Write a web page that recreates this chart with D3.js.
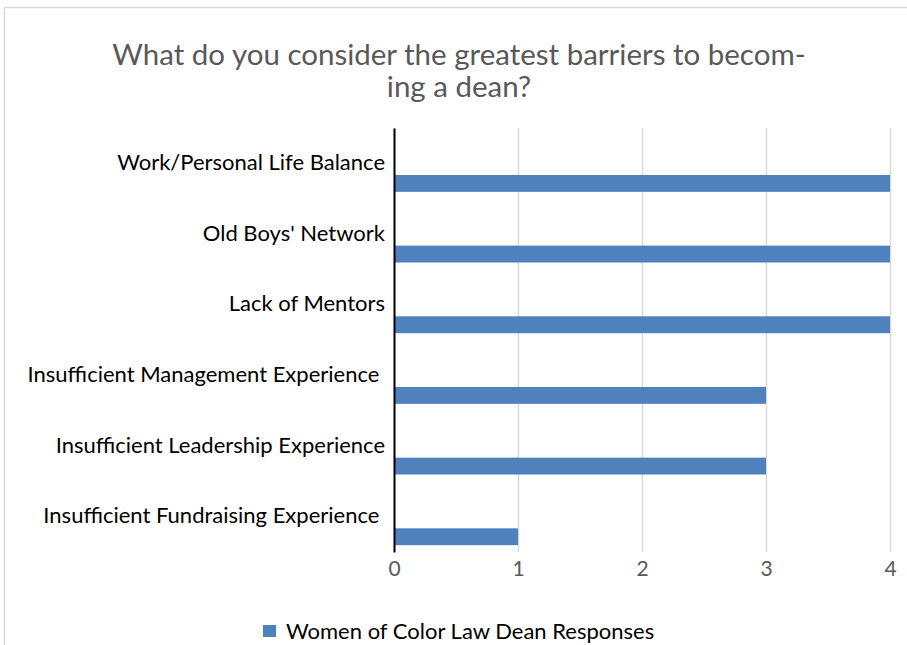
<!DOCTYPE html>
<html>
<head>
<meta charset="utf-8">
<script src="https://cdn.jsdelivr.net/npm/d3@7"></script>
<style>
  body { margin: 0; background: #fff; }
  text { font-family: Lato, "Open Sans", sans-serif; }
</style>
</head>
<body>
<div id="chart"></div>
<script>
// Chart data
var categories = [
  "Work/Personal Life Balance",
  "Old Boys' Network",
  "Lack of Mentors",
  "Insufficient Management Experience ",
  "Insufficient Leadership Experience",
  "Insufficient Fundraising Experience "
];
var responses = [4, 4, 4, 3, 3, 1];
var seriesName = "Women of Color Law Dean Responses";
var xTicks = [0, 1, 2, 3, 4];
var titleLines = ["What do you consider the greatest barriers to becom-", "ing a dean?"];

var width = 907, height = 645;

var svg = d3.select('#chart')
            .append('svg')
            .attr('width', width)
            .attr('height', height);

// chart area border
svg.append('rect')
   .attr('x', 4.5)
   .attr('y', 7.5)
   .attr('width', width + 10)
   .attr('height', height + 10)
   .attr('fill', '#fff')
   .attr('stroke', '#d9d9d9')
   .attr('stroke-width', 1.5);

// Title
svg.append('text')
   .attr('text-anchor', 'middle')
   .attr('fill', '#595959')
   .attr('font-size', 29.5)
   .selectAll('tspan')
   .data(titleLines)
   .enter().append('tspan')
     .attr('x', 459)
     .attr('y', function(d, i) { return 65 + i * 32; })
     .text(function(d) { return d; });

// scales
var x = d3.scaleLinear()
          .domain([0, 4])
          .range([394, 890]);

var y = d3.scaleBand()
          .domain(categories)
          .range([128, 552]);

// two slots per category, the first one is empty like in the source
var slot = d3.scaleBand()
             .domain(['empty', seriesName])
             .range([0, y.step()])
             .paddingInner(0.58)
             .paddingOuter(0.17);

// vertical gridlines
var x_axis = d3.axisBottom(x)
               .tickValues(xTicks)
               .tickFormat(d3.format('d'))
               .tickSize(-(552 - 128))
               .tickPadding(15);

var gx = svg.append('g')
            .attr('transform', 'translate(0,552)')
            .call(x_axis);

gx.select('.domain').remove();
gx.selectAll('.tick line')
  .attr('stroke', '#d9d9d9')
  .attr('stroke-width', 1.5);
gx.selectAll('.tick text')
  .attr('fill', '#595959')
  .attr('font-size', 21)
  .attr('dy', '0.45em');

// bars
svg.append('g')
   .selectAll('rect')
   .data(responses)
   .enter().append('rect')
     .attr('x', x(0))
     .attr('y', function(d, i) { return y(categories[i]) + slot(seriesName); })
     .attr('width', function(d) { return x(d) - x(0); })
     .attr('height', slot.bandwidth())
     .attr('fill', '#4f81bd');

// category axis
var y_axis = d3.axisLeft(y)
               .tickSize(0)
               .tickPadding(9);

var gy = svg.append('g')
            .attr('transform', 'translate(' + x(0) + ',0)')
            .call(y_axis);

gy.select('.domain')
  .attr('stroke', '#000')
  .attr('stroke-width', 2);
gy.selectAll('.tick text')
  .attr('fill', '#000')
  .attr('font-size', 22)
  .style('white-space', 'pre')
  .attr('dy', '0.3em');

// legend
var legend = svg.append('g')
                .attr('transform', 'translate(263,625)');

legend.append('rect')
      .attr('width', 13)
      .attr('height', 12)
      .attr('fill', '#4f81bd');

legend.append('text')
      .attr('x', 23)
      .attr('y', 6)
      .attr('dy', '0.35em')
      .attr('font-size', 22)
      .attr('fill', '#000')
      .text(seriesName);
</script>
</body>
</html>
